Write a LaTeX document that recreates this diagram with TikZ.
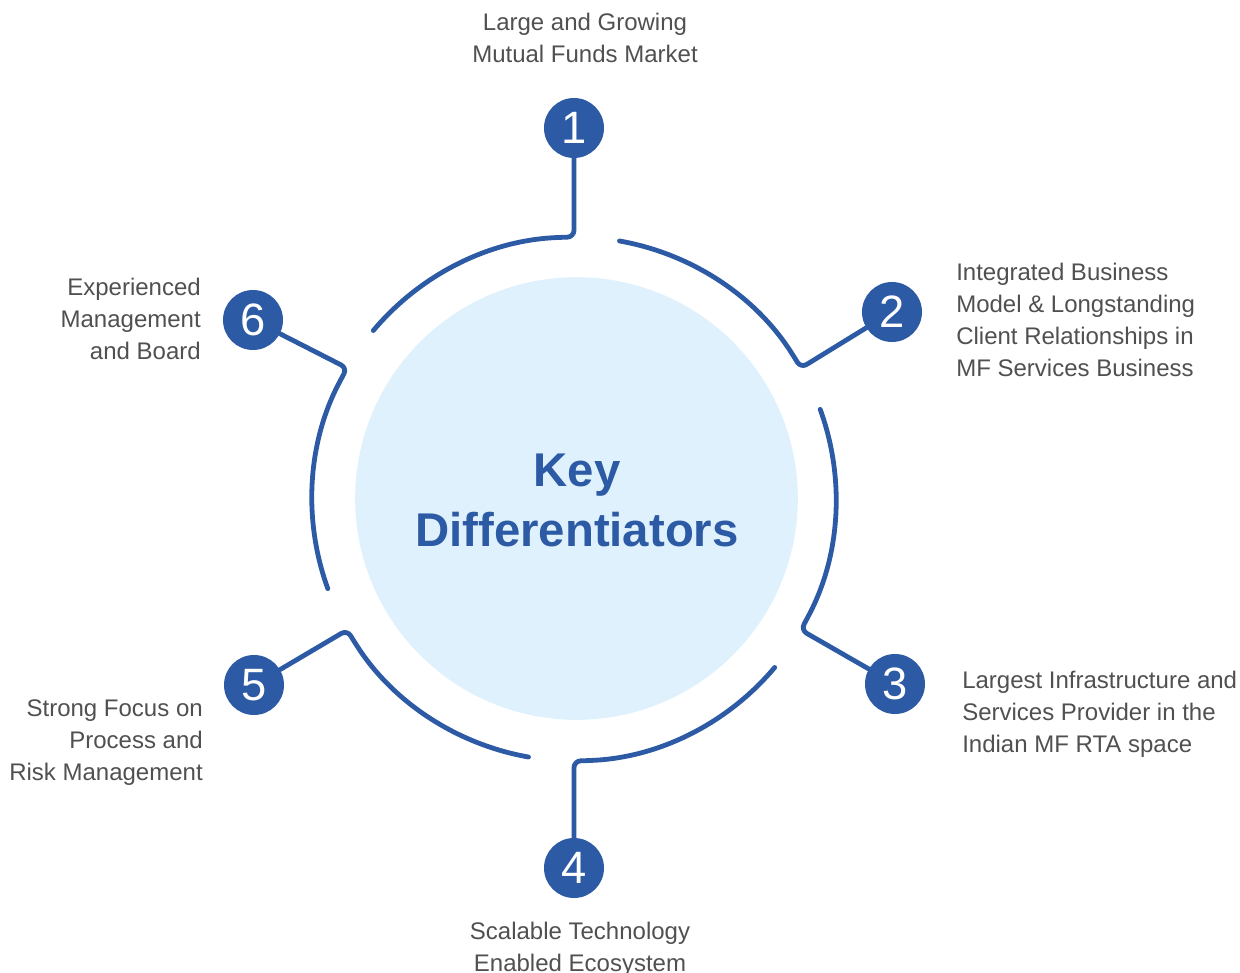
\documentclass[tikz,border=0pt]{standalone}
\usepackage{fontspec}
\setmainfont{Liberation Sans}
\usetikzlibrary{calc}
\definecolor{navy}{HTML}{2C5AA4}
\definecolor{pale}{HTML}{DFF1FC}
\definecolor{txt}{HTML}{505050}
\begin{document}
\begin{tikzpicture}[x=0.75pt,y=0.75pt,
  badge/.style={circle,fill=navy,minimum size=45pt,inner sep=0pt,text=white,
    font=\fontsize{34}{34}\selectfont},
  ring/.style={draw=navy,line width=3.6pt,line cap=round,line join=round,rounded corners=5pt},
  lbl/.style={text=txt,font=\fontsize{18}{24}\selectfont,inner sep=0pt}]
\useasboundingbox (0,-973) rectangle (1240,0);
\coordinate (C) at (574,-499);

% central disc with the title
\node[circle,fill=pale,minimum size=332pt,inner sep=0pt] (core) at (576.5,-498.5) {};
\node[text=navy,font=\fontsize{35.5}{45}\selectfont\bfseries,align=center,inner sep=0pt]
  (title) at (577,-500) {Key\\Differentiators};

% numbered badges around the ring
\foreach \i/\p in {1/{(574,-128)},2/{(892,-312)},3/{(895,-684)},
                   4/{(574,-868)},5/{(254,-685)},6/{(253,-320)}}
  \node[badge] (b\i) at \p {\i};

% ring segments, each bending out to its badge
\foreach \i/\a in {1/90,2/30,3/-30,4/-90,5/210,6/150}
  \draw[ring] ($(C)+(\a+50:262)$) arc[start angle=\a+50,end angle=\a+3,radius=262]
    -- ($(C)+(\a:262)$) -- (b\i);

% captions
\node[lbl,align=center] (t1) at (585,-38) {Large and Growing\\Mutual Funds Market};
\node[lbl,align=left,anchor=west] (t2) at (956,-320)
  {Integrated Business\\Model \& Longstanding\\Client Relationships in\\MF Services Business};
\node[lbl,align=left,anchor=west] (t3) at (962,-714)
  {Largest Infrastructure and\\Services Provider in the\\Indian MF RTA space};
\node[lbl,align=center] (t4) at (580,-949) {Scalable Technology\\Enabled Ecosystem};
\node[lbl,align=right,anchor=east] (t5) at (203,-743)
  {Strong Focus on\\Process and\\Risk Management};
\node[lbl,align=right,anchor=east] (t6) at (201,-319)
  {Experienced\\Management\\and Board};
\end{tikzpicture}
\end{document}
